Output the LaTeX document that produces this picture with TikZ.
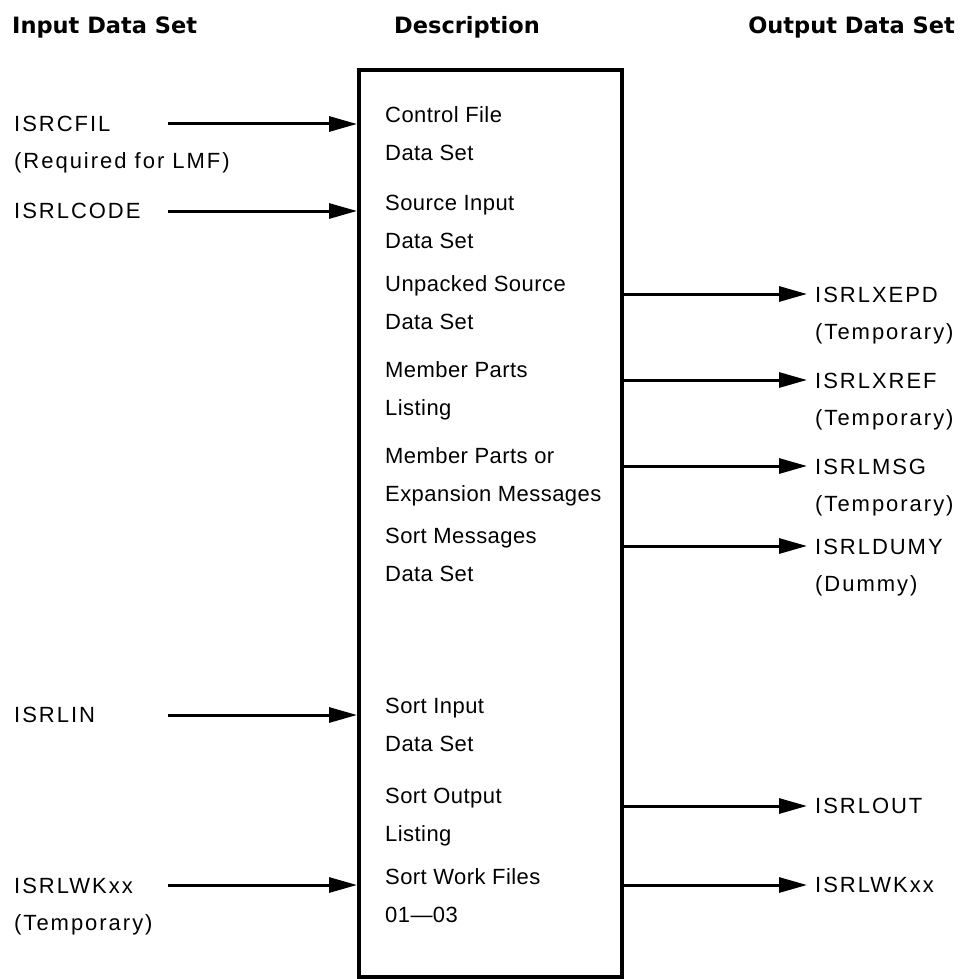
\documentclass[tikz,border=0pt]{standalone}
\usepackage{fontspec}
\setmainfont{Liberation Sans}
\newfontfamily\hdrfont{DejaVu Sans}
\newfontfamily\descfont[LetterSpace=2]{Liberation Sans}
\newfontfamily\lblfont[LetterSpace=9]{Liberation Sans}
\usetikzlibrary{arrows.meta}
\begin{document}
\begin{tikzpicture}[x=1pt,y=-1pt,
  hdr/.style={font=\hdrfont\bfseries\fontsize{22.5}{26}\selectfont, inner sep=0pt, text depth=0pt},
  desc/.style={font=\descfont\fontsize{22}{38}\selectfont, align=left, anchor=west, inner sep=0pt, text depth=0pt},
  lbl/.style={font=\lblfont\fontsize{22}{37}\selectfont, align=left, anchor=west, inner sep=0pt, text depth=0pt},
  flow/.style={line width=3pt, -{Triangle[length=28pt,width=15pt]}},
  bigbox/.style={draw, line width=4pt, minimum width=263pt, minimum height=907pt, anchor=north west, inner sep=0pt}]
\useasboundingbox (0,0) rectangle (965,979);

% headers
\node[hdr, anchor=west] (hin) at (12,25) {Input Data Set};
\node[hdr] (hdesc) at (467,25) {Description};
\node[hdr, anchor=east] (hout) at (955,25) {Output Data Set};

% main box
\node[bigbox] (box) at (357,68) {};

% descriptions
\node[desc] (d1) at (385,134) {Control File\\Data Set};
\node[desc] (d2) at (385,222) {Source Input\\Data Set};
\node[desc] (d3) at (385,303) {Unpacked Source\\Data Set};
\node[desc] (d4) at (385,389) {Member Parts\\Listing};
\node[desc] (d5) at (385,475) {Member Parts or\\Expansion Messages};
\node[desc] (d6) at (385,555) {Sort Messages\\Data Set};
\node[desc] (d7) at (385,725) {Sort Input\\Data Set};
\node[desc] (d8) at (385,815) {Sort Output\\Listing};
\node[desc] (d9) at (385,896) {Sort Work Files\\01\textemdash03};

% input labels
\node[lbl] (i1) at (14,142) {ISRCFIL\\(Required for LMF)};
\node[lbl] (i2) at (14,211) {ISRLCODE};
\node[lbl] (i3) at (14,715) {ISRLIN};
\node[lbl] (i4) at (14,904) {ISRLWKxx\\(Temporary)};

% output labels
\node[lbl] (o1) at (815,313) {ISRLXEPD\\(Temporary)};
\node[lbl] (o2) at (815,399) {ISRLXREF\\(Temporary)};
\node[lbl] (o3) at (815,485) {ISRLMSG\\(Temporary)};
\node[lbl] (o4) at (815,565) {ISRLDUMY\\(Dummy)};
\node[lbl] (o5) at (815,806) {ISRLOUT};
\node[lbl] (o6) at (815,885) {ISRLWKxx};

% arrow ends
\coordinate (a1) at (168,124);
\coordinate (a2) at (168,211);
\coordinate (a3) at (168,715);
\coordinate (a4) at (168,885);
\coordinate (b1) at (807,294);
\coordinate (b2) at (807,380);
\coordinate (b3) at (807,466);
\coordinate (b4) at (807,546);
\coordinate (b5) at (807,806);
\coordinate (b6) at (807,885);

\foreach \c in {a1,a2,a3,a4}
  \draw[flow] (\c) -- (\c -| box.west);
\foreach \c in {b1,b2,b3,b4,b5,b6}
  \draw[flow] (\c -| box.east) -- (\c);
\end{tikzpicture}
\end{document}
